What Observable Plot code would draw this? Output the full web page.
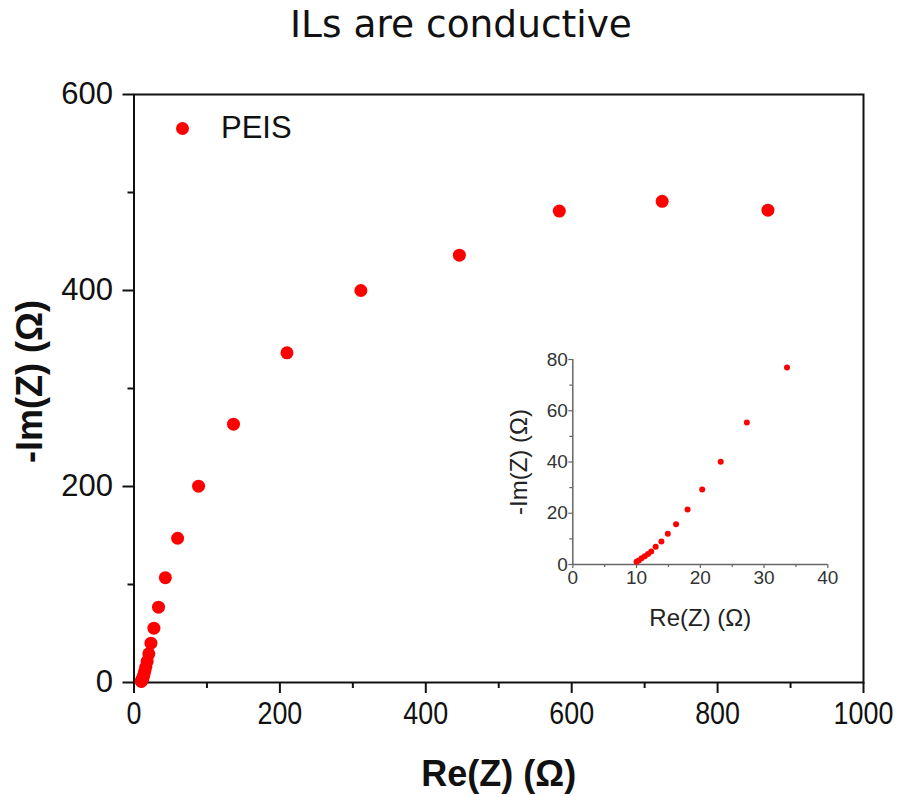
<!DOCTYPE html>
<html>
<head>
<meta charset="utf-8">
<script src="https://cdn.jsdelivr.net/npm/d3@7"></script>
<script src="https://cdn.jsdelivr.net/npm/@observablehq/plot@0.6"></script>
<style>
html, body { margin: 0; padding: 0; background: #fff; }
#wrap { position: relative; width: 907px; height: 797px; overflow: hidden; }
#title { position: absolute; left: 0; top: 2px; width: 922px; text-align: center; font-family: "DejaVu Sans", Verdana, sans-serif; font-size: 37.5px; line-height: 44px; color: #111; }
#main { position: absolute; left: 0; top: 50px; }
#inset { position: absolute; left: 480px; top: 330px; }
#legend { position: absolute; left: 176px; top: 111px; height: 34px; display: flex; align-items: center; font-family: "Liberation Sans", Arial, sans-serif; font-size: 31px; color: #111; }
#legend .sw { display: inline-block; width: 13px; height: 13px; border-radius: 50%; background: #ff0000; margin-right: 32px; }
</style>
</head>
<body>
<div id="wrap">
  <div id="title">ILs are conductive</div>
  <div id="main"></div>
  <div id="inset"></div>
  <div id="legend"><span class="sw"></span><span id="legtext"></span></div>
</div>
<script>
// ---- data ----
const seriesName = "PEIS";
const reZ = [10.0, 10.35, 10.8, 11.3, 11.8, 12.3, 13.0, 13.9, 14.9, 16.2, 18.0, 20.3, 23.2, 27.3, 33.6,
             43, 59.8, 88.5, 136.4, 209.7, 311, 446, 583, 724, 869];
const imZ = [1.1, 1.6, 2.4, 3.2, 4.1, 5.1, 6.9, 9.0, 12.0, 15.7, 21.5, 29.3, 40.1, 55.4, 76.9,
             107, 147.2, 200.3, 263.6, 336.4, 400, 436, 481, 491, 482];

const mainXTicks = [0, 200, 400, 600, 800, 1000];
const mainXMinor = [100, 300, 500, 700, 900];
const mainYTicks = [0, 200, 400, 600];
const mainYMinor = [100, 300, 500];

const insetXTicks = [0, 10, 20, 30, 40];
const insetXMinor = [5, 15, 25, 35];
const insetYTicks = [0, 20, 40, 60, 80];
const insetYMinor = [10, 30, 50, 70];

const titleText = "ILs are conductive";
const xTitle = "Re(Z) (Ω)";
const yTitle = "-Im(Z) (Ω)";

// ---- build ----
const data = reZ.map((re, i) => ({re, im: imZ[i]}));
const insetData = data.filter(d => d.re <= 40 && d.im <= 80);

document.getElementById("title").textContent = titleText;
document.getElementById("legtext").textContent = seriesName;

const RED = "#ff0000";
const blank = () => "";
const plain = d => String(d);

const main = Plot.plot({
  width: 907,
  height: 747,
  marginLeft: 133.5,
  marginRight: 44,
  marginTop: 44,
  marginBottom: 115,
  x: {domain: [0, 1000]},
  y: {domain: [0, 600]},
  style: {fontFamily: "'Liberation Sans', Arial, sans-serif", fontSize: "31px", color: "#111", background: "transparent", overflow: "visible"},
  marks: [
    Plot.axisX(mainXMinor, {tickSize: 6, tickFormat: blank, strokeWidth: 2, label: null}),
    Plot.axisX(mainXTicks, {tickSize: 11, tickPadding: 8, strokeWidth: 2, fontSize: 32, tickFormat: plain, label: null, ariaLabel: "main-x-labels"}),
    Plot.axisY(mainYMinor, {tickSize: 6, tickFormat: blank, strokeWidth: 2, label: null}),
    Plot.axisY(mainYTicks, {tickSize: 11, tickPadding: 10, strokeWidth: 2, fontSize: 31, tickFormat: plain, label: null}),
    Plot.frame({stroke: "#111", strokeWidth: 2}),
    Plot.dot(data, {x: "re", y: "im", r: 6.5, fill: RED, stroke: "none"}),
    Plot.text([xTitle], {text: d => d, frameAnchor: "bottom", dy: 92, fontSize: 36, fontWeight: "bold", textAnchor: "middle", lineAnchor: "middle"}),
    Plot.text([yTitle], {text: d => d, frameAnchor: "left", dx: -103.5, dy: -7, rotate: -90, fontSize: 36, fontWeight: "bold", textAnchor: "middle", lineAnchor: "middle"})
  ]
});
document.getElementById("main").appendChild(main);

// condensed look of the main x tick labels (those below the frame)
{
  const labels = new Set(mainXTicks.map(String));
  const svgTop = main.getBoundingClientRect().top;
  main.querySelectorAll("text").forEach(t => {
    if (!labels.has(t.textContent)) return;
    const r = t.getBoundingClientRect();
    if (r.top - svgTop < 640) return; // not an x-axis label
    const tr = t.getAttribute("transform");
    if (tr) {
      t.setAttribute("transform", tr + " scale(0.84,1)");
    } else {
      const x = +t.getAttribute("x") || 0, y = +t.getAttribute("y") || 0;
      t.setAttribute("transform", `translate(${x},${y}) scale(0.84,1) translate(${-x},${-y})`);
    }
  });
}

const inset = Plot.plot({
  width: 380,
  height: 320,
  marginLeft: 92.3,
  marginRight: 32.7,
  marginTop: 29,
  marginBottom: 86,
  x: {domain: [0, 40]},
  y: {domain: [0, 80]},
  style: {fontFamily: "'Liberation Sans', Arial, sans-serif", fontSize: "19px", color: "#333", background: "transparent", overflow: "visible"},
  marks: [
    Plot.axisX(insetXMinor, {tickSize: 3, tickFormat: blank, stroke: "#666", strokeWidth: 1.2, label: null}),
    Plot.axisX(insetXTicks, {tickSize: 4, tickPadding: 2, stroke: "#666", strokeWidth: 1.2, fontSize: 19, tickFormat: plain, label: null}),
    Plot.axisY(insetYMinor, {tickSize: 3, tickFormat: blank, stroke: "#666", strokeWidth: 1.2, label: null}),
    Plot.axisY(insetYTicks, {tickSize: 4, tickPadding: 1, stroke: "#666", strokeWidth: 1.2, fontSize: 19, tickFormat: plain, label: null}),
    Plot.ruleY([0], {stroke: "#666", strokeWidth: 1.5}),
    Plot.ruleX([0], {stroke: "#666", strokeWidth: 1.5}),
    Plot.dot(insetData, {x: "re", y: "im", r: 3, fill: RED, stroke: "none"}),
    Plot.text([xTitle], {text: d => d, frameAnchor: "bottom", dy: 54, fontSize: 24, fill: "#222", textAnchor: "middle", lineAnchor: "middle"}),
    Plot.text([yTitle], {text: d => d, frameAnchor: "left", dx: -53, rotate: -90, fontSize: 24, fill: "#222", textAnchor: "middle", lineAnchor: "middle"})
  ]
});
document.getElementById("inset").appendChild(inset);
</script>
</body>
</html>
